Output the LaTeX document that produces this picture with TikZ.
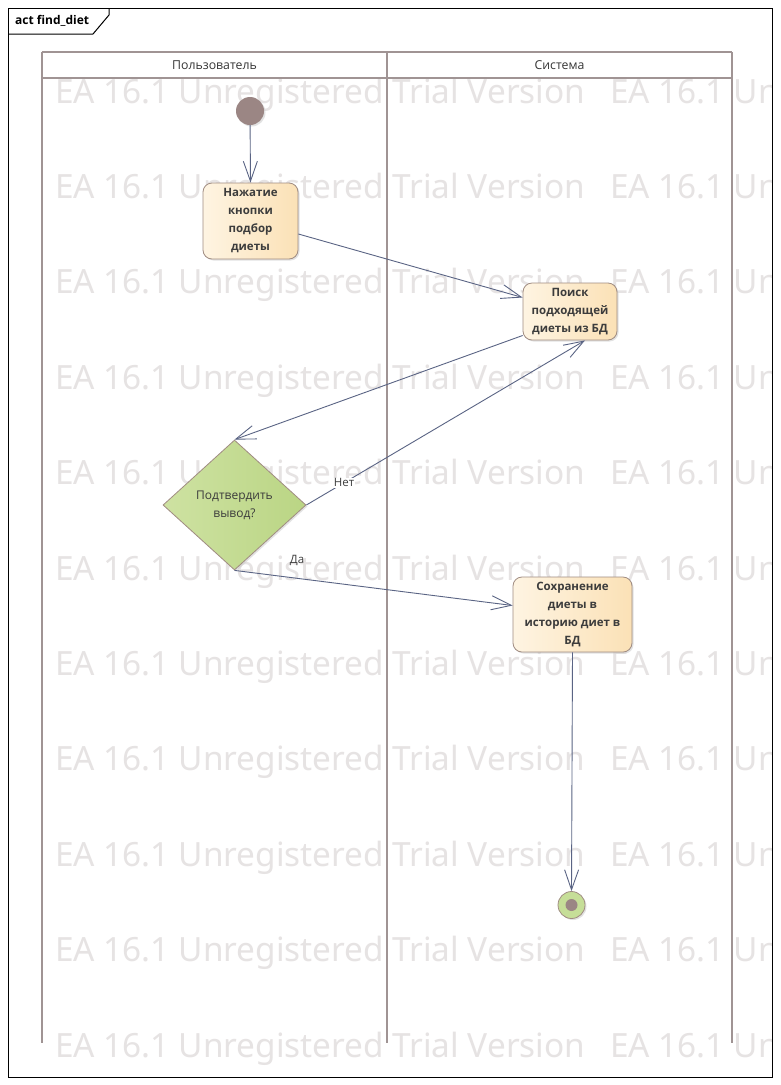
\documentclass[tikz,border=0pt]{standalone}
\usepackage{fontspec}
\usepackage{graphicx}
\setmainfont{Open Sans}
\newfontfamily\wmfont{Noto Sans}
\usetikzlibrary{arrows.meta,shapes.geometric,shadows}
\definecolor{edgec}{RGB}{90,100,132}
\definecolor{lanec}{RGB}{160,148,148}
\definecolor{wm}{RGB}{230,227,227}
\definecolor{actborder}{RGB}{160,140,130}
\definecolor{actL}{RGB}{254,244,226}
\definecolor{actR}{RGB}{251,225,182}
\definecolor{decL}{RGB}{206,226,162}
\definecolor{decR}{RGB}{186,213,132}
\definecolor{initc}{RGB}{155,134,132}
\definecolor{finc}{RGB}{198,222,152}
\definecolor{txt}{RGB}{60,60,60}
\begin{document}
\begin{tikzpicture}[x=1pt,y=-1pt,
  shade/.style={drop shadow={shadow xshift=1.5pt,shadow yshift=-1.5pt,fill=black!22}},
  action/.style={draw=actborder, line width=0.8pt, rounded corners=9pt, left color=actL, right color=actR,
    align=center, font=\bfseries\fontsize{11.5}{18}\selectfont, text=txt, inner sep=0pt, shade},
  decision/.style={diamond, draw=actborder, line width=0.8pt, left color=decL, right color=decR,
    align=center, font=\fontsize{12}{18}\selectfont, text=txt, inner sep=0pt,
    minimum width=143pt, minimum height=130pt, shade},
  flow/.style={draw=edgec, line width=0.9pt, -{Straight Barb[length=20pt,width=14pt]}},
  lane/.style={draw=lanec, line width=1.8pt},
  lanehead/.style={font=\fontsize{12.3}{14}\selectfont, text=txt!90!black, inner sep=0pt},
  flowlabel/.style={font=\fontsize{11.5}{14}\selectfont, text=txt, inner sep=1pt},
  wmark/.style={anchor=base west, inner sep=0pt, text=wm}
]
\useasboundingbox[fill=white] (0,0) rectangle (781,1085);

% watermark
\begin{scope}
  \clip (8,8) rectangle (772,1077);
  \foreach \k in {0,...,10} {
    \foreach \xx/\nm in {55/a,610/b} {
      \node[wmark] (wm-\k-\nm) at (\xx, 103+95.4*\k)
        {\resizebox{530pt}{!}{\wmfont\fontsize{30}{30}\selectfont EA 16.1 Unregistered Trial Version}};
    }
  }
\end{scope}

% frame
\draw[black, line width=1pt] (8,8) rectangle (772,1077);
\draw[black, line width=1pt] (8,34) -- (93,34) -- (109,15) -- (109,8);
\node[anchor=west, inner sep=0pt, font=\bfseries\fontsize{12}{14}\selectfont] (title) at (15,21) {act find\_diet};

% swimlanes
\draw[lane] (42,52) -- (732,52);
\draw[lane] (42,78) -- (732,78);
\draw[lane] (42,52) -- (42,1043);
\draw[lane] (387,52) -- (387,1043);
\draw[lane] (732,52) -- (732,1043);
\node[lanehead] (h1) at (214.5,65) {Пользователь};
\node[lanehead] (h2) at (559.5,65) {Система};

% nodes
\node[circle, fill=initc, minimum size=28pt, inner sep=0pt, shade] (start) at (250,111) {};
\node[action, minimum width=95pt, minimum height=76pt] (a1) at (250.5,221) {Нажатие\\кнопки\\подбор\\диеты};
\node[action, minimum width=94pt, minimum height=57pt] (a2) at (570,311.5) {Поиск\\подходящей\\диеты из БД};
\node[decision] (dec) at (234.5,505) {Подтвердить\\вывод?};
\node[action, minimum width=119pt, minimum height=75pt] (a3) at (572.5,614.5) {Сохранение\\диеты в\\историю диет в\\БД};
\node[circle, draw=actborder, line width=0.8pt, fill=finc, minimum size=27pt, inner sep=0pt, shade] (end) at (571.5,905) {};
\node[circle, fill=initc, minimum size=12pt, inner sep=0pt] (endin) at (end) {};

% connectors
\draw[flow] (start) -- (a1.north);
\draw[flow] ([yshift=-13pt]a1.east) -- ([yshift=14pt]a2.west);
\draw[flow] ([yshift=-24pt]a2.west) -- (dec.north);
\draw[flow] (dec.east) -- node[pos=0.135, flowlabel, fill=white] (lno) {Нет} ([xshift=15pt]a2.south);
\draw[flow] (dec.south) -- node[pos=0.225, flowlabel, anchor=south, yshift=11pt] (lyes) {Да} ([yshift=9pt]a3.west);
\draw[flow] (a3.south) -- (end.north);
\end{tikzpicture}
\end{document}
